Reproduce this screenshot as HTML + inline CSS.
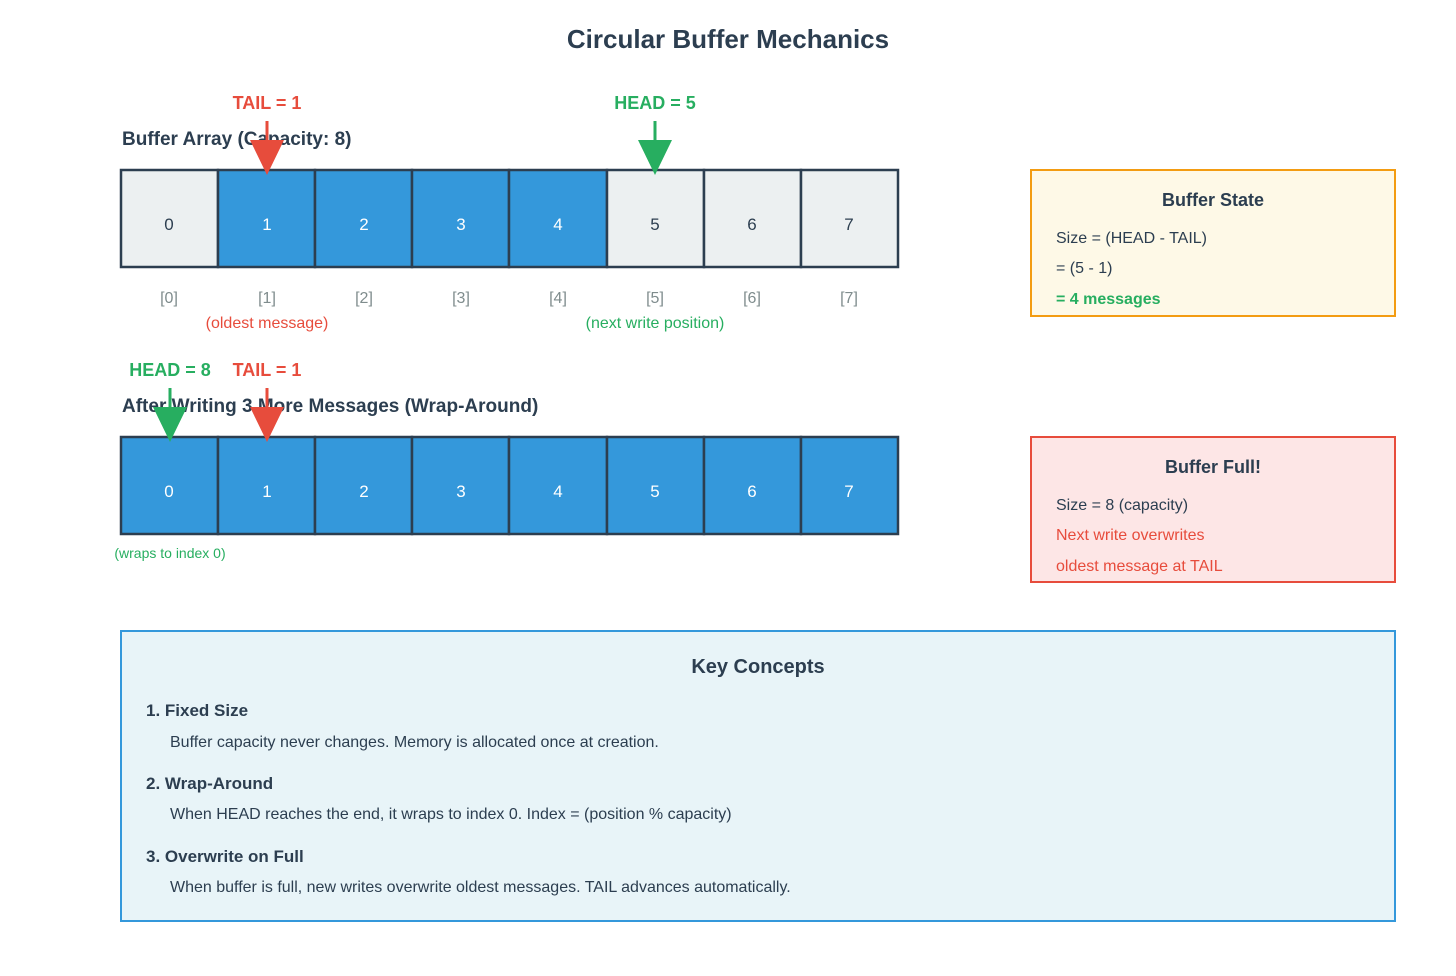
<!DOCTYPE html>
<html><head><meta charset="utf-8"><style>
body{margin:0;background:#fff}
svg text{font-family:"Liberation Sans","DejaVu Sans",sans-serif}
</style></head><body>
<svg width="1456" height="971" viewBox="0 0 1456 971" xmlns="http://www.w3.org/2000/svg">
<rect width="1456" height="971" fill="#fff"/>
<text x="728" y="48" text-anchor="middle" font-size="26" font-weight="bold" fill="#2c3e50">Circular Buffer Mechanics</text>

<text x="122" y="145" font-size="19" font-weight="bold" fill="#2c3e50">Buffer Array (Capacity: 8)</text>
<g stroke="#2c3e50" stroke-width="2.5">
<rect x="121" y="170" width="97" height="97" fill="#ecf0f1"/>
<rect x="218" y="170" width="97" height="97" fill="#3498db"/>
<rect x="315" y="170" width="97" height="97" fill="#3498db"/>
<rect x="412" y="170" width="97" height="97" fill="#3498db"/>
<rect x="509" y="170" width="98" height="97" fill="#3498db"/>
<rect x="607" y="170" width="97" height="97" fill="#ecf0f1"/>
<rect x="704" y="170" width="97" height="97" fill="#ecf0f1"/>
<rect x="801" y="170" width="97" height="97" fill="#ecf0f1"/>
</g>
<g font-size="17" text-anchor="middle">
<text x="169" y="230" fill="#2c3e50">0</text>
<text x="267" y="230" fill="#fff">1</text>
<text x="364" y="230" fill="#fff">2</text>
<text x="461" y="230" fill="#fff">3</text>
<text x="558" y="230" fill="#fff">4</text>
<text x="655" y="230" fill="#2c3e50">5</text>
<text x="752" y="230" fill="#2c3e50">6</text>
<text x="849" y="230" fill="#2c3e50">7</text>
</g>
<g font-size="16" text-anchor="middle" fill="#7f8c8d">
<text x="169" y="303">[0]</text><text x="267" y="303">[1]</text><text x="364" y="303">[2]</text><text x="461" y="303">[3]</text>
<text x="558" y="303">[4]</text><text x="655" y="303">[5]</text><text x="752" y="303">[6]</text><text x="849" y="303">[7]</text>
</g>
<text x="267" y="328" font-size="16" text-anchor="middle" fill="#e74c3c">(oldest message)</text>
<text x="655" y="328" font-size="16" text-anchor="middle" fill="#27ae60">(next write position)</text>

<text x="267" y="109" font-size="18" font-weight="bold" text-anchor="middle" fill="#e74c3c">TAIL = 1</text>
<line x1="267" y1="121" x2="267" y2="145" stroke="#e74c3c" stroke-width="3"/>
<polygon points="250,140 284,140 267,175" fill="#e74c3c"/>
<text x="655" y="109" font-size="18" font-weight="bold" text-anchor="middle" fill="#27ae60">HEAD = 5</text>
<line x1="655" y1="121" x2="655" y2="145" stroke="#27ae60" stroke-width="3"/>
<polygon points="638,140 672,140 655,175" fill="#27ae60"/>

<text x="122" y="412" font-size="19" font-weight="bold" fill="#2c3e50">After Writing 3 More Messages (Wrap-Around)</text>
<g stroke="#2c3e50" stroke-width="2.5" fill="#3498db">
<rect x="121" y="437" width="97" height="97"/><rect x="218" y="437" width="97" height="97"/>
<rect x="315" y="437" width="97" height="97"/><rect x="412" y="437" width="97" height="97"/>
<rect x="509" y="437" width="98" height="97"/><rect x="607" y="437" width="97" height="97"/>
<rect x="704" y="437" width="97" height="97"/><rect x="801" y="437" width="97" height="97"/>
</g>
<g font-size="17" text-anchor="middle" fill="#fff">
<text x="169" y="497">0</text><text x="267" y="497">1</text><text x="364" y="497">2</text><text x="461" y="497">3</text>
<text x="558" y="497">4</text><text x="655" y="497">5</text><text x="752" y="497">6</text><text x="849" y="497">7</text>
</g>
<text x="170" y="558" font-size="14" text-anchor="middle" fill="#27ae60">(wraps to index 0)</text>
<text x="170" y="376" font-size="18" font-weight="bold" text-anchor="middle" fill="#27ae60">HEAD = 8</text>
<line x1="170" y1="388" x2="170" y2="412" stroke="#27ae60" stroke-width="3"/>
<polygon points="153,407 187,407 170,442" fill="#27ae60"/>
<text x="267" y="376" font-size="18" font-weight="bold" text-anchor="middle" fill="#e74c3c">TAIL = 1</text>
<line x1="267" y1="388" x2="267" y2="412" stroke="#e74c3c" stroke-width="3"/>
<polygon points="250,407 284,407 267,442" fill="#e74c3c"/>

<rect x="1031" y="170" width="364" height="146" fill="#fef9e7" stroke="#f39c12" stroke-width="2"/>
<text x="1213" y="206" font-size="18" font-weight="bold" text-anchor="middle" fill="#2c3e50">Buffer State</text>
<text x="1056" y="243" font-size="16" fill="#2c3e50">Size = (HEAD - TAIL)</text>
<text x="1056" y="273" font-size="16" fill="#2c3e50">= (5 - 1)</text>
<text x="1056" y="304" font-size="16" font-weight="bold" fill="#27ae60">= 4 messages</text>

<rect x="1031" y="437" width="364" height="145" fill="#fde6e6" stroke="#e74c3c" stroke-width="2"/>
<text x="1213" y="473" font-size="18" font-weight="bold" text-anchor="middle" fill="#2c3e50">Buffer Full!</text>
<text x="1056" y="510" font-size="16" fill="#2c3e50">Size = 8 (capacity)</text>
<text x="1056" y="540" font-size="16" fill="#e74c3c">Next write overwrites</text>
<text x="1056" y="571" font-size="16" fill="#e74c3c">oldest message at TAIL</text>

<rect x="121" y="631" width="1274" height="290" fill="#e8f4f8" stroke="#3498db" stroke-width="2"/>
<text x="758" y="673" font-size="20" font-weight="bold" text-anchor="middle" fill="#2c3e50">Key Concepts</text>
<text x="146" y="716" font-size="17" font-weight="bold" fill="#2c3e50">1. Fixed Size</text>
<text x="170" y="747" font-size="16" fill="#2c3e50">Buffer capacity never changes. Memory is allocated once at creation.</text>
<text x="146" y="789" font-size="17" font-weight="bold" fill="#2c3e50">2. Wrap-Around</text>
<text x="170" y="819" font-size="16" fill="#2c3e50">When HEAD reaches the end, it wraps to index 0. Index = (position % capacity)</text>
<text x="146" y="862" font-size="17" font-weight="bold" fill="#2c3e50">3. Overwrite on Full</text>
<text x="170" y="892" font-size="16" fill="#2c3e50">When buffer is full, new writes overwrite oldest messages. TAIL advances automatically.</text>
</svg>
</body></html>
